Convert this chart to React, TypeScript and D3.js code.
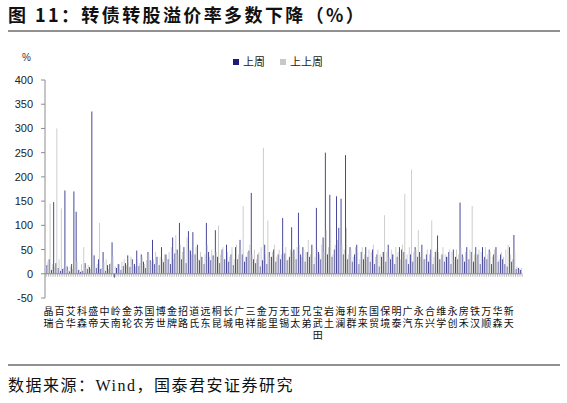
import React from "react";
import * as d3 from "d3";

const W = 567;
const H = 403;

const title = "图 11：转债转股溢价率多数下降（%）";
const sourceCn1 = "数据来源：";
const sourceEn = "Wind";
const sourceCn2 = "，国泰君安证券研究";
const seriesNames = ["上周", "上上周"];
const seriesColors = ["#34348f", "#c8c8c8"];

// one label every 5 categories
const labels = [
  "晶瑞", "百合", "艾华", "科森", "盛帝", "中天", "岭南", "金轮", "苏农", "国芳",
  "博世", "金牌", "招路", "道氏", "远东", "桐昆", "长城", "广电", "三祥", "金能",
  "万里", "无锡", "亚太", "兄弟", "宝武田", "岩土", "海澜", "利群", "东来", "国贸",
  "保境", "明泰", "广汽", "永东", "合兴", "维学", "永创", "房禾", "铁汉", "万顺",
  "华森", "新天",
];

const lastWeek = [
  18, 30, 8, 148, 22, 12, 6, 10, 172, 15,
  5, 20, 170, 128, 8, 4, 6, 22, 10, 14,
  335, 38, 12, 30, 10, 45, 6, 18, 20, 65,
  -8, 12, 20, 8, 16, 22, 38, 14, 30, 20,
  48, 16, 40, 25, 12, 45, 28, 70, 20, 35,
  18, 55, 24, 40, 30, 20, 75, 42, 50, 105,
  30, 55, 22, 88, 48, 86, 40, 60, 28, 35,
  20, 105, 45, 28, 38, 90, 35, 22, 50, 30,
  60, 25, 40, 18, 55, 30, 70, 40, 25, 35,
  48, 167, 30, 22, 40, 15, 28, 60, 20, 45,
  35, 50, 25, 40, 30, 115, 42, 28, 35, 96,
  50, 30, 126, 40, 55, 25, 45, 35, 60, 20,
  136, 45, 30, 75, 250, 40, 163, 35, 50, 160,
  95, 155, 40, 245, 30, 55, 25, 40, 60, 20,
  45, 30, 55, 35, 25, 50, 20, 40, 15, 35,
  45, 25, 60, 30, 40, 20, 35, 55, 50, 45,
  30, 20, 40, 25, 55, 35, 45, 60, 30, 40,
  25, 50, 20, 45, 79, 30, 40, 25, 35, 45,
  20, 50, 35, 30, 147, 40, 25, 55, 30, 45,
  25, 55, 40, 20, 55, 35, 30, 50, 20, 40,
  55, 25, 40, 30, 20, 15, 55, 25, 80, 10,
  12, 8,
];

const prevWeek = [
  25, 145, 20, 15, 300, 30, 135, 12, 20, 8,
  15, 10, 30, 25, 8, 20, 55, 12, 18, 10,
  40, 15, 20, 105, 12, 25, 30, 10, 22, 35,
  15, 20, 10, 25, 30, 18, 25, 35, 20, 15,
  30, 22, 35, 20, 28, 40, 25, 30, 45, 20,
  35, 30, 40, 25, 45, 55, 30, 80, 40, 60,
  45, 30, 75, 50, 40, 35, 55, 30, 45, 25,
  40, 60, 35, 50, 30, 45, 100, 40, 55, 30,
  45, 35, 55, 30, 60, 40, 50, 140, 35, 45,
  60, 40, 50, 30, 45, 55, 260, 40, 110, 35,
  45, 60, 35, 50, 40, 45, 55, 30, 50, 45,
  40, 55, 60, 35, 50, 45, 70, 40, 55, 35,
  50, 40, 60, 45, 90, 55, 95, 40, 60, 70,
  45, 60, 50, 95, 40, 50, 35, 55, 45, 30,
  55, 40, 30, 50, 45, 60, 35, 50, 40, 45,
  121, 45, 35, 50, 40, 55, 45, 30, 60, 165,
  40, 55, 215, 45, 50, 90, 35, 45, 30, 50,
  40, 110, 35, 50, 45, 30, 55, 40, 35, 50,
  45, 30, 50, 40, 55, 35, 45, 30, 50, 140,
  40, 35, 50, 45, 30, 55, 40, 45, 35, 50,
  40, 30, 45, 35, 50, 60, 40, 30, 45, 15,
  10, 12,
];

const yTicks = [-50, 0, 50, 100, 150, 200, 250, 300, 350, 400];

const LABEL_EVERY = 5;
const axisColor = "#8c8c8c";
const cjk = "'Noto Sans CJK SC', sans-serif";
const latin = "'Liberation Sans', Arial, sans-serif";
const serif = "'Liberation Serif', 'Times New Roman', serif";

export default function App() {
  const n = lastWeek.length;
  const idx = d3.range(n);
  const x = d3.scaleBand<number>().domain(idx).range([46.5, 522]).paddingInner(0.2);
  const xs = d3.scaleBand<number>().domain([0, 1]).range([0, x.bandwidth()]);
  const y = d3.scaleLinear().domain([-50, 400]).range([298, 80]);
  const y0 = y(0);
  const step = x.step();
  const offset = (step - x.bandwidth()) / 2;
  const series = [lastWeek, prevWeek];

  return (
    <svg
      width={W}
      height={H}
      viewBox={`0 0 ${W} ${H}`}
      style={{ position: "absolute", left: 0, top: 0, background: "#fff" }}
    >
      <rect x={0} y={0} width={W} height={H} fill="#fff" />
      {/* title */}
      <text x={8} y={22} fontFamily={cjk} fontWeight={700} fontSize={18} letterSpacing={2.4} fill="#111">
        {title}
      </text>
      <line x1={8} x2={560} y1={31} y2={31} stroke="#222" strokeWidth={1.2} />

      {/* legend */}
      <g fontFamily={cjk} fontSize={11} fill="#222">
        <rect x={233} y={59} width={6} height={6} fill="#1c1c7c" />
        <text x={243} y={66}>{seriesNames[0]}</text>
        <rect x={280} y={59} width={6} height={6} fill={seriesColors[1]} />
        <text x={290} y={66}>{seriesNames[1]}</text>
      </g>

      {/* y axis */}
      <text x={22} y={61} fontFamily={latin} fontSize={10} fill="#333">%</text>
      <line x1={45} x2={45} y1={y(400)} y2={y(-50)} stroke={axisColor} />
      {yTicks.map((t) => (
        <g key={t}>
          <line x1={41} x2={45} y1={y(t)} y2={y(t)} stroke={axisColor} />
          <text
            x={33}
            y={y(t) + 4}
            textAnchor="end"
            fontFamily={latin}
            fontSize={11}
            fill="#222"
          >
            {t}
          </text>
        </g>
      ))}

      {/* bars */}
      {series.map((vals, s) => (
        <g key={s} fill={seriesColors[s]}>
          {vals.map((v, i) => {
            const top = Math.min(y(v), y0);
            const h = Math.abs(y(v) - y0);
            return (
              <rect
                key={i}
                x={(x(i) as number) + (xs(s) as number)}
                y={top}
                width={xs.bandwidth()}
                height={h}
              />
            );
          })}
        </g>
      ))}

      {/* x axis at zero */}
      <line x1={45} x2={522} y1={y0} y2={y0} stroke={axisColor} />
      {d3.range(n + 1).map((i) => {
        const xp = i < n ? (x(i) as number) - offset : (x(n - 1) as number) + x.bandwidth() + offset;
        return <line key={i} x1={xp} x2={xp} y1={y0} y2={y0 + 3} stroke={axisColor} strokeWidth={0.6} />;
      })}

      {/* category labels, vertical text */}
      <g fontFamily={cjk} fontSize={10} fill="#111">
        {labels.map((lab, j) => {
          const ci = j * LABEL_EVERY;
          const cx = (x(ci) as number) + x.bandwidth() / 2 + 1;
          return (
            <text
              key={j}
              x={cx}
              y={306}
              letterSpacing={2}
              style={{ writingMode: "vertical-rl", textOrientation: "upright" } as any}
            >
              {lab}
            </text>
          );
        })}
      </g>

      {/* footer */}
      <line x1={8} x2={560} y1={365} y2={365} stroke="#222" strokeWidth={1.2} />
      <text x={8} y={391} fontSize={16} letterSpacing={1.5} fill="#111">
        <tspan fontFamily={cjk}>{sourceCn1}</tspan>
        <tspan fontFamily={serif}>{sourceEn}</tspan>
        <tspan fontFamily={cjk}>{sourceCn2}</tspan>
      </text>
    </svg>
  );
}
